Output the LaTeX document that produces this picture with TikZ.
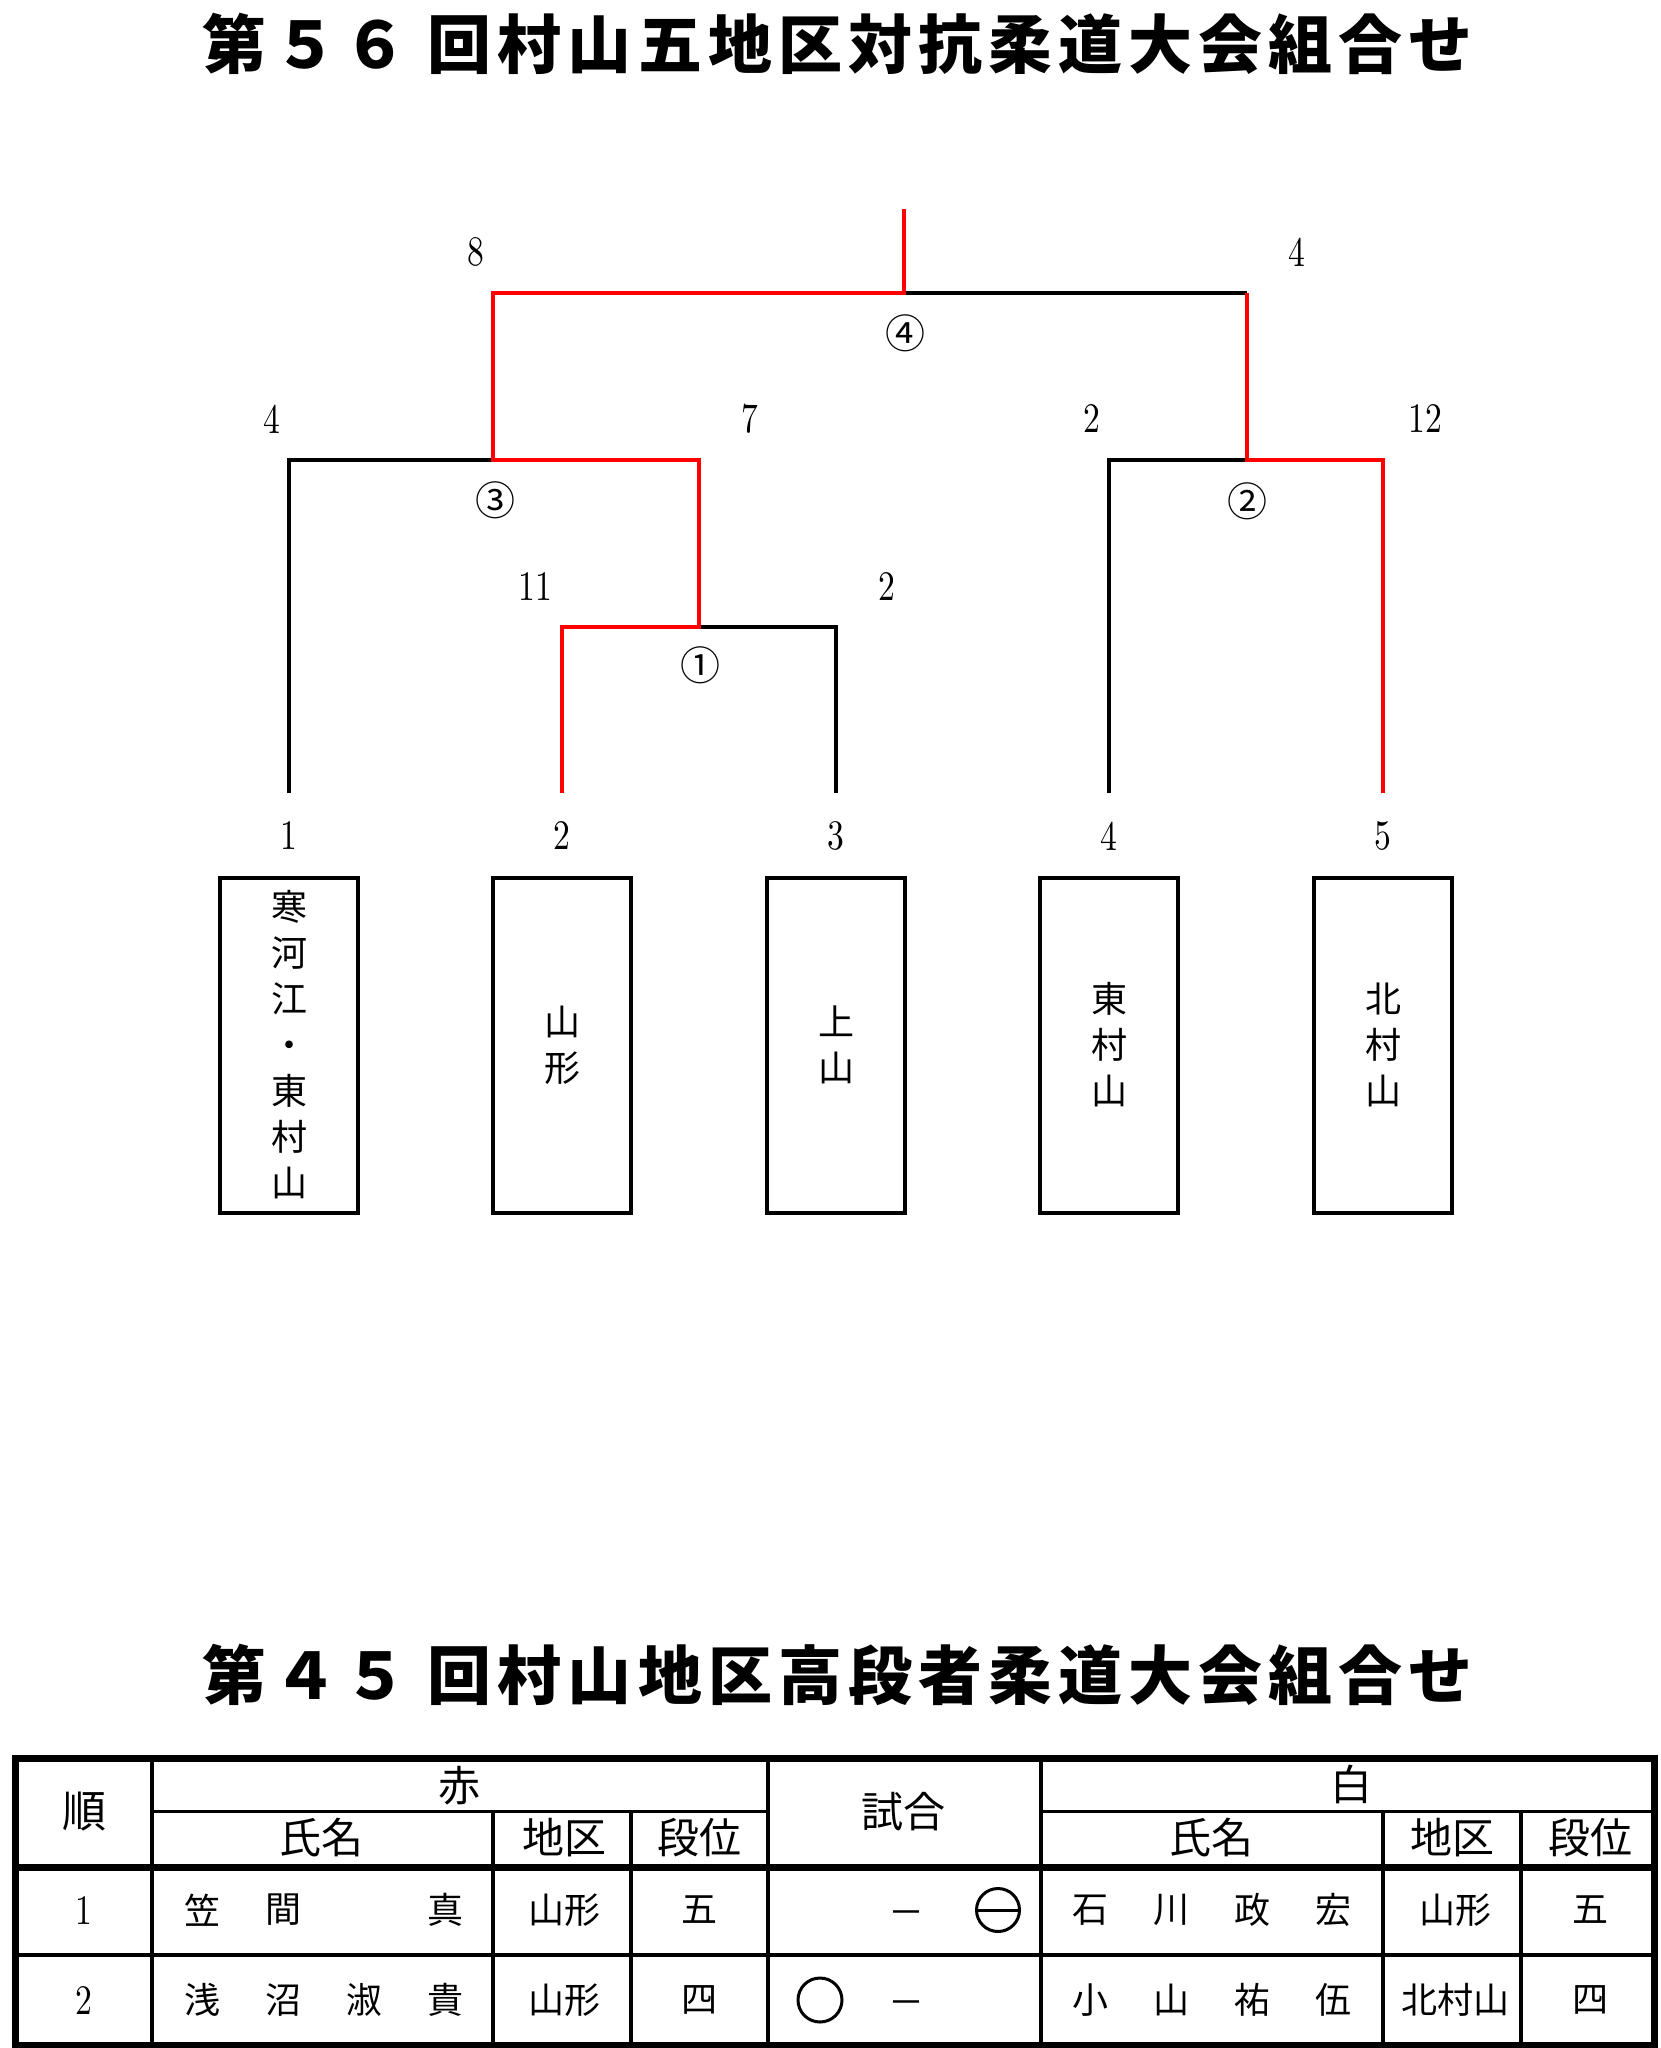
\documentclass[tikz,border=0pt]{standalone}
\usepackage{fontspec}
\usetikzlibrary{positioning}
\newfontfamily\gothic{Noto Sans CJK JP}
\newfontfamily\numfont{lmroman10-regular}[Extension=.otf,FakeStretch=0.8]
\newcommand{\winred}{red}
\newcommand{\titlefont}{\gothic\bfseries\fontsize{64}{64}\selectfont\addfontfeature{LetterSpace=9.5}}
\tikzstyle{every node}=[font=\gothic, inner sep=0, outer sep=0]
\tikzstyle{team}=[draw, line width=4pt, minimum width=138pt, minimum height=335pt, align=center, font=\gothic\fontsize{36}{46}\selectfont]
\tikzstyle{score}=[font=\numfont\fontsize{42}{42}\selectfont]
\tikzstyle{bout}=[font=\gothic\fontsize{40}{40}\selectfont]
\tikzstyle{head}=[font=\gothic\fontsize{42}{42}\selectfont]
\tikzstyle{cell}=[font=\gothic\fontsize{36}{36}\selectfont]

\begin{document}
\begin{tikzpicture}[x=1pt, y=-1pt, line width=4pt]
    \useasboundingbox (0,0) rectangle (1660,2048);
    \node (title1) at (838,44) {\titlefont 第５６ 回村山五地区対抗柔道大会組合せ};

    % teams
    \node[team] (t1) at (289,1045) {寒\\河\\江\\・\\東\\村\\山};
    \node[team] (t2) at (562,1045) {山\\形};
    \node[team] (t3) at (836,1045) {上\\山};
    \node[team] (t4) at (1109,1045) {東\\村\\山};
    \node[team] (t5) at (1383,1045) {北\\村\\山};
    \foreach \i in {1,...,5} {
        \node[score] (n\i) at (t\i.north |- 0,836) {\i};
        \coordinate (b\i) at (t\i.north |- 0,793);
    }

    % bracket
    \coordinate (j1) at (699,627);
    \coordinate (j2) at (1247,460);
    \coordinate (j3) at (493,460);
    \coordinate (j4) at (904,293);
    \coordinate (top) at (904,209);
    \draw (b1) |- (j3);
    \draw (b3) |- (j1);
    \draw (b4) |- (j2);
    \draw (j4) -- (j2 |- j4);
    \draw[\winred] (b2) |- (j1) |- (j3) |- (j4) -- (top);
    \draw[\winred] (b5) |- (j2) -- (j2 |- j4);

    \node[bout] (bout1) at (700,665) {①};
    \node[bout] (bout2) at (1247,501) {②};
    \node[bout] (bout3) at (495,500) {③};
    \node[bout] (bout4) at (905,333) {④};
    \node[score] (s4a) at (476,252) {8};
    \node[score] (s4b) at (1297,252) {4};
    \node[score] (s3a) at (272,419) {4};
    \node[score] (s3b) at (750,419) {7};
    \node[score] (s2a) at (1092,419) {2};
    \node[score] (s2b) at (1425,419) {12};
    \node[score] (s1a) at (535,587) {11};
    \node[score] (s1b) at (887,587) {2};

    % table
    \node (title2) at (838,1675) {\titlefont 第４５ 回村山地区高段者柔道大会組合せ};
    \draw[line width=7pt] (15,1758.5) rectangle (1654,2045);
    \draw[line width=7pt] (15,1867) -- (1654,1867);
    \draw (15,1955) -- (1654,1955);
    \draw[line width=3.5pt] (152,1811.5) -- (768,1811.5);
    \draw[line width=3.5pt] (1041,1811.5) -- (1654,1811.5);
    \foreach \x in {152,768,1041}
        \draw (\x,1758.5) -- (\x,2045);
    \foreach \x in {493,631,1383,1521}
        \draw (\x,1811.5) -- (\x,2045);

    \node[head, font=\gothic\fontsize{44}{44}\selectfont] (jun) at (84,1812) {順};
    \node[head] (aka) at (459,1786) {赤};
    \node[head] (shiro) at (1351,1784) {白};
    \node[head] (shiai) at (903,1812) {試合};
    \node[head] (akaname) at (321,1838) {氏名};
    \node[head] (akaarea) at (564,1838) {地区};
    \node[head] (akadan) at (699,1838) {段位};
    \node[head] (shironame) at (1211,1838) {氏名};
    \node[head] (shiroarea) at (1452,1838) {地区};
    \node[head] (shirodan) at (1590,1838) {段位};

    \node[score] (order1) at (84,1910) {1};
    \node[score] (order2) at (84,2000) {2};
    \foreach \c [count=\i] in {笠,間,{},真}
        \node[cell] (aka1n\i) at ({202+81.3*(\i-1)},1910) {\c};
    \foreach \c [count=\i] in {浅,沼,淑,貴}
        \node[cell] (aka2n\i) at ({202+81.3*(\i-1)},2000) {\c};
    \foreach \c [count=\i] in {石,川,政,宏}
        \node[cell] (shiro1n\i) at ({1090+81.3*(\i-1)},1910) {\c};
    \foreach \c [count=\i] in {小,山,祐,伍}
        \node[cell] (shiro2n\i) at ({1090+81.3*(\i-1)},2000) {\c};
    \node[cell] (aka1area) at (564,1910) {山形};
    \node[cell] (aka2area) at (564,2000) {山形};
    \node[cell] (aka1dan) at (699,1910) {五};
    \node[cell] (aka2dan) at (699,2000) {四};
    \node[cell] (shiro1area) at (1455,1910) {山形};
    \node[cell] (shiro2area) at (1455,2000) {北村山};
    \node[cell] (shiro1dan) at (1590,1910) {五};
    \node[cell] (shiro2dan) at (1590,2000) {四};

    % results
    \node[cell] (dash1) at (906,1918) {－};
    \node[cell] (dash2) at (906,2008) {－};
    \node[circle, draw, line width=3pt, minimum size=43pt] (lose1) at (998,1910) {};
    \draw[line width=3pt] (lose1.west) -- (lose1.east);
    \node[circle, draw, line width=3pt, minimum size=44pt] (win2) at (820,2000) {};
\end{tikzpicture}
\end{document}
